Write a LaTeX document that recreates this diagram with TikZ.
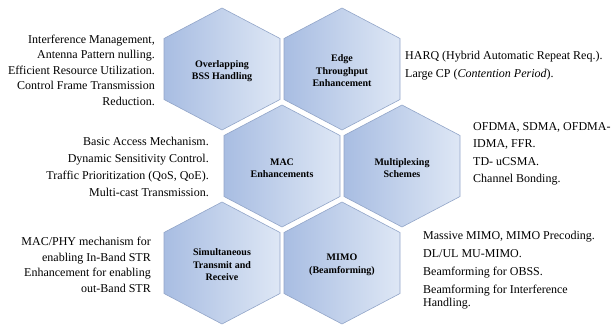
\documentclass[tikz,border=0pt]{standalone}
\usepackage{fontspec}
\setmainfont{Liberation Serif}
\usepackage{tikz}

\definecolor{hexblue}{RGB}{168,189,226}
\definecolor{hexpale}{RGB}{222,231,245}
\definecolor{hexline}{RGB}{146,165,200}

\tikzset{
  hexshape/.style={draw=hexline, line width=0.6pt, left color=hexblue, right color=hexpale},
  hexlabel/.style={font=\bfseries\fontsize{10}{12.5}\selectfont, align=center, inner sep=0pt},
  leftnote/.style={font=\fontsize{12}{15.5}\selectfont, align=right, inner sep=0pt, anchor=east},
  rightnote/.style={font=\fontsize{12}{18}\selectfont, align=left, inner sep=0pt, anchor=west}
}

% one hexagon cell: name, x, y, label
\newcommand{\hexcell}[4]{%
  \draw[hexshape] (#2,#3) ++(0,-61) -- ++(58,30.5) -- ++(0,61) -- ++(-58,30.5)
    -- ++(-58,-30.5) -- ++(0,-61) -- cycle;
  \node[hexlabel] (#1) at (#2,#3+2) {#4};}

\begin{document}
\begin{tikzpicture}[x=1pt, y=-1pt]
            \useasboundingbox (0,0) rectangle (612,326);

            % Define cells
            \hexcell{obss}{222}{69}{Overlapping\\BSS Handling}
            \hexcell{edge}{342}{69}{Edge\\Throughput\\Enhancement}
            \hexcell{mac}{282}{166}{MAC\\Enhancements}
            \hexcell{mux}{402}{166}{Multiplexing\\Schemes}
            \hexcell{str}{222}{263}{Simultaneous\\Transmit and\\Receive}
            \hexcell{mimo}{342}{263}{MIMO\\(Beamforming)}

            % Side notes
            \node[leftnote] (obssnote) at (155,70) {Interference Management,\\Antenna Pattern nulling.\\Efficient Resource Utilization.\\Control Frame Transmission\\Reduction.};
            \node[rightnote] (edgenote) at (405,66) {HARQ (Hybrid Automatic Repeat Req.).\\Large CP (\textit{Contention Period}).};
            \node[leftnote, font=\fontsize{12}{17}\selectfont] (macnote) at (209,167) {Basic Access Mechanism.\\Dynamic Sensitivity Control.\\Traffic Prioritization (QoS, QoE).\\Multi-cast Transmission.};
            \node[rightnote, font=\fontsize{12}{17.5}\selectfont] (muxnote) at (473,154) {OFDMA, SDMA, OFDMA-\\IDMA, FFR.\\TD- uCSMA.\\Channel Bonding.};
            \node[leftnote] (strnote) at (151,265) {MAC/PHY mechanism for\\enabling In-Band STR\\Enhancement for enabling\\out-Band STR};
            \node[rightnote] (mimonote) at (423,270) {Massive MIMO, MIMO Precoding.\\DL/UL MU-MIMO.\\Beamforming for OBSS.\\Beamforming for Interference\\[-5pt]Handling.};
        \end{tikzpicture}
\end{document}
